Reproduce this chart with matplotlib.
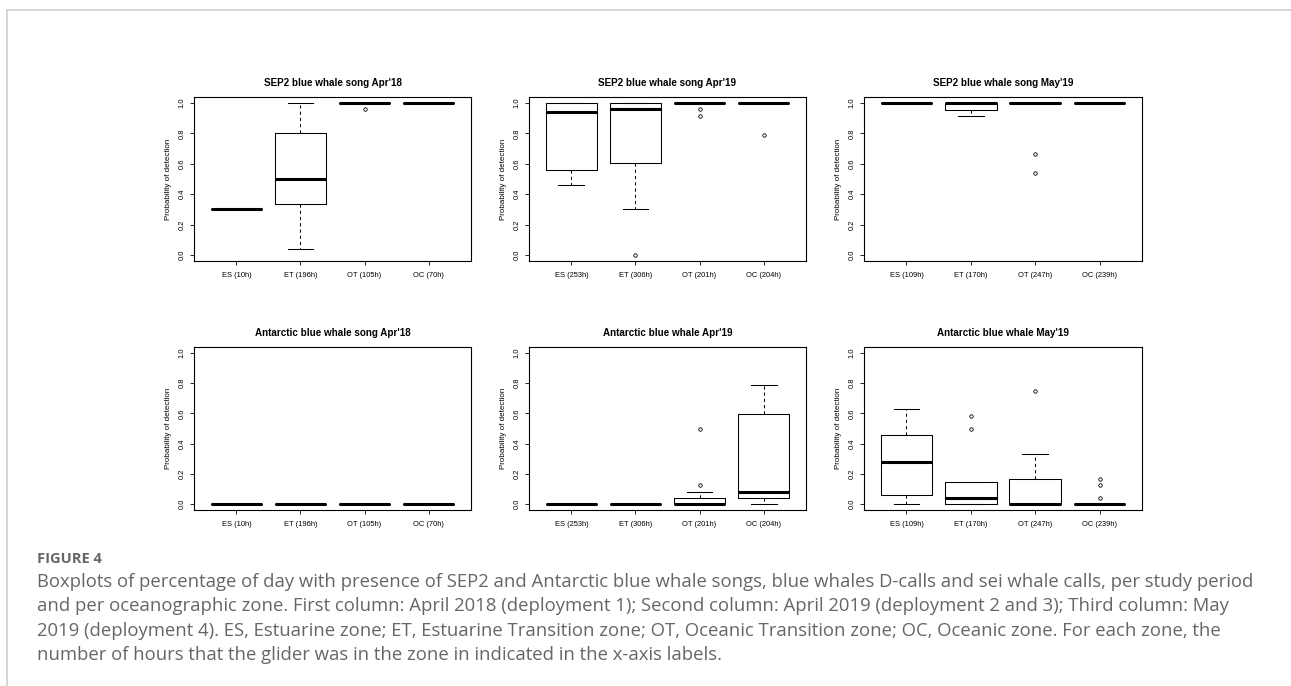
import matplotlib.pyplot as plt
from matplotlib.lines import Line2D

# zone order on every x axis
zones = ["ES", "ET", "OT", "OC"]

titles = [
    "SEP2 blue whale song Apr'18",
    "SEP2 blue whale song Apr'19",
    "SEP2 blue whale song May'19",
    "Antarctic blue whale song Apr'18",
    "Antarctic blue whale Apr'19",
    "Antarctic blue whale May'19",
]

# hours spent by the glider in each zone, per period
hours_apr18 = ["10h", "196h", "105h", "70h"]
hours_apr19 = ["253h", "306h", "201h", "204h"]
hours_may19 = ["109h", "170h", "247h", "239h"]
panel_hours = [hours_apr18, hours_apr19, hours_may19,
               hours_apr18, hours_apr19, hours_may19]

# box statistics, one row per panel, one entry per zone
medians = [
    [0.30, 0.50, 1.00, 1.00],
    [0.943, 0.958, 1.00, 1.00],
    [1.00, 1.00, 1.00, 1.00],
    [0.00, 0.00, 0.00, 0.00],
    [0.00, 0.00, 0.00, 0.081],
    [0.275, 0.042, 0.00, 0.00],
]
lower_q = [
    [0.30, 0.333, 1.00, 1.00],
    [0.561, 0.603, 1.00, 1.00],
    [1.00, 0.956, 1.00, 1.00],
    [0.00, 0.00, 0.00, 0.00],
    [0.00, 0.00, 0.00, 0.04],
    [0.059, 0.00, 0.00, 0.00],
]
upper_q = [
    [0.30, 0.80, 1.00, 1.00],
    [1.00, 1.00, 1.00, 1.00],
    [1.00, 1.00, 1.00, 1.00],
    [0.00, 0.00, 0.00, 0.00],
    [0.00, 0.00, 0.04, 0.599],
    [0.456, 0.148, 0.165, 0.00],
]
whisker_lo = [
    [0.30, 0.04, 1.00, 1.00],
    [0.46, 0.30, 1.00, 1.00],
    [1.00, 0.917, 1.00, 1.00],
    [0.00, 0.00, 0.00, 0.00],
    [0.00, 0.00, 0.00, 0.00],
    [0.00, 0.00, 0.00, 0.00],
]
whisker_hi = [
    [0.30, 1.00, 1.00, 1.00],
    [1.00, 1.00, 1.00, 1.00],
    [1.00, 1.00, 1.00, 1.00],
    [0.00, 0.00, 0.00, 0.00],
    [0.00, 0.00, 0.081, 0.791],
    [0.626, 0.148, 0.33, 0.00],
]
outliers = [
    [[], [], [0.96], []],
    [[], [0.00], [0.958, 0.914], [0.79]],
    [[], [], [0.667, 0.542], []],
    [[], [], [], []],
    [[], [], [0.123, 0.498], []],
    [[], [0.581, 0.50], [0.751], [0.167, 0.123, 0.042]],
]

caption_head = "FIGURE 4"
caption_lines = [
    "Boxplots of percentage of day with presence of SEP2 and Antarctic blue whale songs, blue whales D-calls and sei whale calls, per study period",
    "and per oceanographic zone. First column: April 2018 (deployment 1); Second column: April 2019 (deployment 2 and 3); Third column: May",
    "2019 (deployment 4). ES, Estuarine zone; ET, Estuarine Transition zone; OT, Oceanic Transition zone; OC, Oceanic zone. For each zone, the",
    "number of hours that the glider was in the zone in indicated in the x-axis labels.",
]

W, H = 1291, 686
fig = plt.figure(figsize=(W / 100, H / 100), dpi=100)

# panel frames in pixels: (left, right) and (top, bottom)
col_x = [(194, 471), (529, 806), (864, 1142)]
row_y = [(97, 261), (347, 510)]

plot_font = "Liberation Sans"
tick_size = 5.4

for i in range(6):
    r, c = divmod(i, 3)
    x0, x1 = col_x[c]
    y0, y1 = row_y[r]
    ax = fig.add_axes([x0 / W, 1 - y1 / H, (x1 - x0) / W, (y1 - y0) / H])

    stats = []
    for j in range(4):
        stats.append(dict(
            med=medians[i][j], q1=lower_q[i][j], q3=upper_q[i][j],
            whislo=whisker_lo[i][j], whishi=whisker_hi[i][j],
            fliers=outliers[i][j],
        ))

    ax.bxp(stats, positions=[1, 2, 3, 4], widths=0.8, capwidths=0.4,
           boxprops=dict(color="black", linewidth=0.75),
           medianprops=dict(color="black", linewidth=2.2, solid_capstyle="butt"),
           whiskerprops=dict(color="black", linewidth=0.75, linestyle=(0, (3, 3))),
           capprops=dict(color="black", linewidth=0.75),
           flierprops=dict(marker="o", markerfacecolor="none",
                           markeredgecolor="black", markersize=2.5,
                           markeredgewidth=0.6))

    ax.set_xlim(0.34, 4.66)
    ax.set_ylim(-0.04, 1.04)
    ax.set_xticks([1, 2, 3, 4])
    ax.set_xticklabels([f"{z} ({h})" for z, h in zip(zones, panel_hours[i])],
                       fontsize=tick_size, family=plot_font)
    ax.set_yticks([0, 0.2, 0.4, 0.6, 0.8, 1.0])
    ax.set_yticklabels(["0.0", "0.2", "0.4", "0.6", "0.8", "1.0"],
                       fontsize=tick_size, family=plot_font, rotation=90,
                       va="center")
    ax.tick_params(direction="out", length=3, width=0.6, pad=5)
    ax.tick_params(axis="y", pad=3)
    for sp in ax.spines.values():
        sp.set_linewidth(0.8)
    ax.set_ylabel("Probability of detection", fontsize=5.8, family=plot_font,
                  labelpad=5)
    ax.set_title(titles[i], fontsize=7.1, fontweight="bold", family=plot_font,
                 pad=8)

# thin page border
fig.add_artist(Line2D([7 / W, 1], [1 - 10 / H, 1 - 10 / H], color="#d0d0d0",
                      linewidth=1.2, transform=fig.transFigure))
fig.add_artist(Line2D([7 / W, 7 / W], [0, 1 - 10 / H], color="#d0d0d0",
                      linewidth=1.2, transform=fig.transFigure))

cap_color = "#666666"
fig.text(37 / W, 1 - 559 / H, caption_head, fontsize=10.5, fontweight="bold",
         family="Open Sans", color=cap_color, va="center")
for k, line in enumerate(caption_lines):
    fig.text(37 / W, 1 - (582 + 24.3 * k) / H, line, fontsize=13.3,
             family="Open Sans", color=cap_color, va="center")

fig.savefig("out.png", dpi=100)
